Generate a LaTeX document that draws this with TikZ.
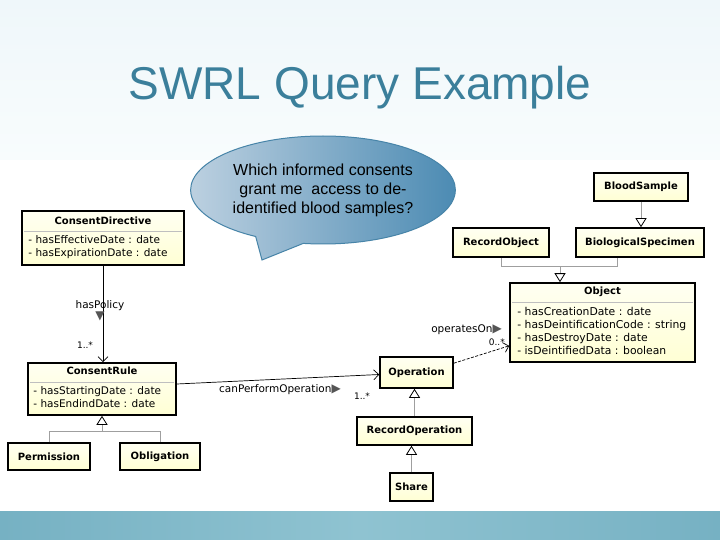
\documentclass[tikz,border=0pt]{standalone}
\usepackage{fontspec}
\setmainfont{Liberation Sans}
\newfontfamily\umlfont{DejaVu Sans}
\usetikzlibrary{positioning,calc,arrows.meta,shapes.callouts}
\definecolor{titleblue}{HTML}{3B7F9B}
\definecolor{skytop}{HTML}{EFF7FA}
\definecolor{skybottom}{HTML}{F8FCFD}
\definecolor{bandteal}{HTML}{76B1C3}
\definecolor{bandlight}{HTML}{8FC3D1}
\definecolor{bubblelight}{HTML}{BCD0E0}
\definecolor{bubbledark}{HTML}{4C8BB3}
\definecolor{bubbleedge}{HTML}{4784A8}
\definecolor{umltop}{HTML}{FFFFF2}
\definecolor{umlbottom}{HTML}{FFFFD4}
\definecolor{dirmark}{HTML}{555555}

\newcommand{\dirright}{{\color{dirmark}\fontsize{12}{12}\selectfont▶}}

\tikzset{
  umlbox/.style={draw=black, line width=1.6pt, top color=umltop, bottom color=umlbottom, inner sep=0pt},
  classname/.style={font=\umlfont\fontsize{10}{12}\selectfont\bfseries},
  umltitle/.style={classname, inner sep=0pt},
  umlattr/.style={font=\umlfont\fontsize{10.5}{13}\selectfont, align=left, inner sep=0pt, anchor=north west},
  sepline/.style={draw=gray!50, line width=0.6pt},
  genline/.style={draw=gray!75, line width=0.8pt},
  gentip/.style={-{Triangle[open, length=9pt, width=11pt, color=black, line width=0.8pt]}},
  assoc/.style={draw=black, line width=0.7pt, -{Straight Barb[length=5pt, width=10pt]}},
  asslabel/.style={font=\umlfont\fontsize{10.5}{12}\selectfont, inner sep=0pt},
  multlabel/.style={font=\umlfont\fontsize{9}{10}\selectfont, inner sep=0pt},
}

\begin{document}
\begin{tikzpicture}[x=1pt, y=-1pt]
\useasboundingbox (0,0) rectangle (720,540);

% Slide background
\fill[white] (0,0) rectangle (720,540);
\shade[top color=skytop, bottom color=skybottom] (0,0) rectangle (720,160);
\shade[left color=bandteal, right color=bandteal, middle color=bandlight] (0,511) rectangle (720,540);

% Title
\node[font=\fontsize{46}{54}\selectfont, text=titleblue, anchor=base] (title) at (360,100) {SWRL Query Example};

% Question bubble
\node[ellipse callout, callout absolute pointer={(262,260)}, callout pointer arc=22,
      minimum width=260pt, minimum height=108pt, draw=bubbleedge, line width=1pt,
      left color=bubblelight, right color=bubbledark,
      font=\fontsize{16}{19}\selectfont, align=center] (question) at (323,190)
  {Which informed consents\\grant me\ \ access to de-\\identified blood samples?};

% ConsentDirective class
\node[umlbox, minimum width=162pt, minimum height=54pt] (cd) at (103,238) {};
\node[umltitle] (cd-title) at ($(cd.north)+(0,11)$) {ConsentDirective};
\draw[sepline] ($(cd.north west)+(3,21)$) -- ($(cd.north east)+(-3,21)$);
\node[umlattr] (cd-attr) at ($(cd.north west)+(7,25)$) {- hasEffectiveDate : date\\- hasExpirationDate : date};

% ConsentRule class
\node[umlbox, minimum width=148pt, minimum height=52pt] (cr) at (102,389) {};
\node[umltitle] (cr-title) at ($(cr.north)+(0,9)$) {ConsentRule};
\draw[sepline] ($(cr.north west)+(3,20)$) -- ($(cr.north east)+(-3,20)$);
\node[umlattr] (cr-attr) at ($(cr.north west)+(6,24)$) {- hasStartingDate : date\\- hasEndindDate : date};

% Permission and Obligation
\node[umlbox, classname, minimum width=82pt, minimum height=27pt] (perm) at (49,456.5) {Permission};
\node[umlbox, classname, minimum width=80pt, minimum height=27pt] (obl) at (160,456.5) {Obligation};

% Operations
\node[umlbox, classname, minimum width=73pt, minimum height=31pt] (oper) at (416.5,372.5) {Operation};
\node[umlbox, classname, minimum width=115pt, minimum height=28pt] (recop) at (414.5,431) {RecordOperation};
\node[umlbox, classname, minimum width=43pt, minimum height=28pt] (share) at (411.5,487) {Share};

% Object class
\node[umlbox, minimum width=185pt, minimum height=79pt] (obj) at (602.5,322.5) {};
\node[umltitle] (obj-title) at ($(obj.north)+(0,10)$) {Object};
\draw[sepline] ($(obj.north west)+(3,20)$) -- ($(obj.north east)+(-3,20)$);
\node[umlattr, font=\umlfont\fontsize{10.8}{13}\selectfont] (obj-attr) at ($(obj.north west)+(8,25)$)
  {- hasCreationDate : date\\- hasDeintificationCode : string\\- hasDestroyDate : date\\- isDeintifiedData : boolean};

% Object subclasses
\node[umlbox, classname, minimum width=96pt, minimum height=29pt] (recobj) at (501,242.5) {RecordObject};
\node[umlbox, classname, minimum width=128pt, minimum height=29pt] (biospec) at (640,242.5) {BiologicalSpecimen};
\node[umlbox, classname, minimum width=94pt, minimum height=28pt] (blood) at (641,187) {BloodSample};

% Generalizations
\coordinate (crjoin) at ($(cr.south)+(0,16)$);
\draw[genline] (perm.north) |- (crjoin);
\draw[genline] (obl.north) |- (crjoin);
\draw[genline, gentip] (crjoin) -- (cr.south);

\coordinate (objjoin) at (560,266);
\draw[genline] (recobj.south) |- (objjoin);
\draw[genline] ($(biospec.south)+(-23,0)$) |- (objjoin);
\draw[genline, gentip] (objjoin) -- (objjoin |- obj.north);

\draw[genline, gentip] (recop.north) -- (recop.north |- oper.south);
\draw[genline, gentip] (share.north) -- (share.north |- recop.south);
\draw[genline, gentip] (blood.south) -- (blood.south |- biospec.north);

% Associations
\draw[assoc] (cd.south) -- (cd.south |- cr.north);
\node[asslabel] (haspolicy) at (100,306) {hasPolicy};
\node[font=\umlfont\fontsize{12}{12}\selectfont, text=dirmark, inner sep=0pt, below=0pt of haspolicy] (policydir) {▼};
\node[multlabel] (policymult) at (85,345) {1..*};

\draw[assoc] ($(cr.east)+(0,-5)$) -- ($(oper.west)+(0,2)$);
\node[asslabel, anchor=west] (canperform) at (219,390) {canPerformOperation\dirright};
\node[multlabel] (performmult) at (362,396) {1..*};

\draw[assoc, dash pattern=on 3pt off 1.5pt] ($(oper.north east)+(0,7)$) -- ($(obj.south west)+(0,-17)$);
\node[asslabel, anchor=east] (operates) at (502,330) {operatesOn\dirright};
\node[multlabel, anchor=east] (operatesmult) at (505,342) {0..*};
\end{tikzpicture}
\end{document}
